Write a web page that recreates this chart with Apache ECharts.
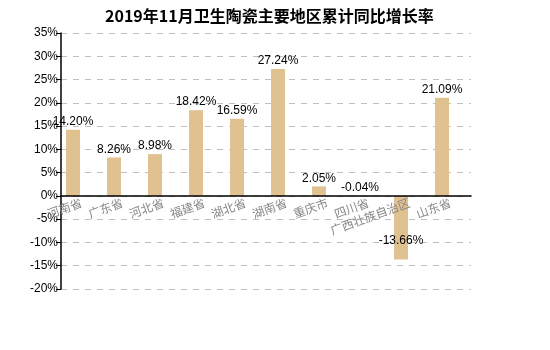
<!DOCTYPE html>
<html><head><meta charset="utf-8">
<script src="https://cdn.jsdelivr.net/npm/echarts@6/dist/echarts.min.js"></script>
<style>html,body{margin:0;padding:0;background:#fff}#c{width:550px;height:350px}</style>
</head><body><div id="c"></div>
<script>
var categories = ['河南省','广东省','河北省','福建省','湖北省','湖南省','重庆市','四川省','广西壮族自治区','山东省'];
var values = [14.20, 8.26, 8.98, 18.42, 16.59, 27.24, 2.05, -0.04, -13.66, 21.09];
var title = '2019年11月卫生陶瓷主要地区累计同比增长率';

var chart = echarts.init(document.getElementById('c'));
chart.setOption({
  animation: false,
  title: {text: title, left: 100, top: 3, textStyle: {fontFamily: 'Noto Sans CJK SC', fontSize: 16, fontWeight: 'bold', color: '#000'}},
  grid: {left: 61, right: 79, top: 33, bottom: 61, containLabel: false},
  xAxis: {
    type: 'category', data: categories, position: 'bottom', offset: -93, z: 5,
    axisLine: {onZero: false, lineStyle: {color: '#000', width: 1.5}},
    axisTick: {alignWithLabel: true, length: 5, lineStyle: {color: '#000'}},
    axisLabel: {rotate: 20, interval: 0, color: '#888', fontFamily: 'Noto Sans CJK SC', fontSize: 12, margin: 6}
  },
  yAxis: {
    type: 'value', min: -20, max: 35, interval: 5,
    axisLine: {show: true, lineStyle: {color: '#000', width: 1.5}},
    axisTick: {show: true, length: 5, lineStyle: {color: '#000'}},
    axisLabel: {formatter: '{value}%', color: '#000', fontFamily: 'Liberation Sans', fontSize: 12, margin: 3},
    splitLine: {lineStyle: {color: '#c0c0c0', type: [6, 6]}}
  },
  series: [{
    type: 'bar', barWidth: 14, barGap: '21%',
    data: values.map(function(v){
      var d = {value: v};
      if (v < -1) d.label = {position: 'insideBottom', distance: 13};
      return d;
    }),
    itemStyle: {color: '#e0c190'},
    label: {show: true, position: 'top', distance: 2, color: '#000', fontFamily: 'Liberation Sans', fontSize: 12,
      formatter: function(p){ return p.value.toFixed(2) + '%'; }}
  }, {
    type: 'bar', barWidth: 14, data: values.map(function(){ return '-'; })
  }]
});
</script></body></html>
